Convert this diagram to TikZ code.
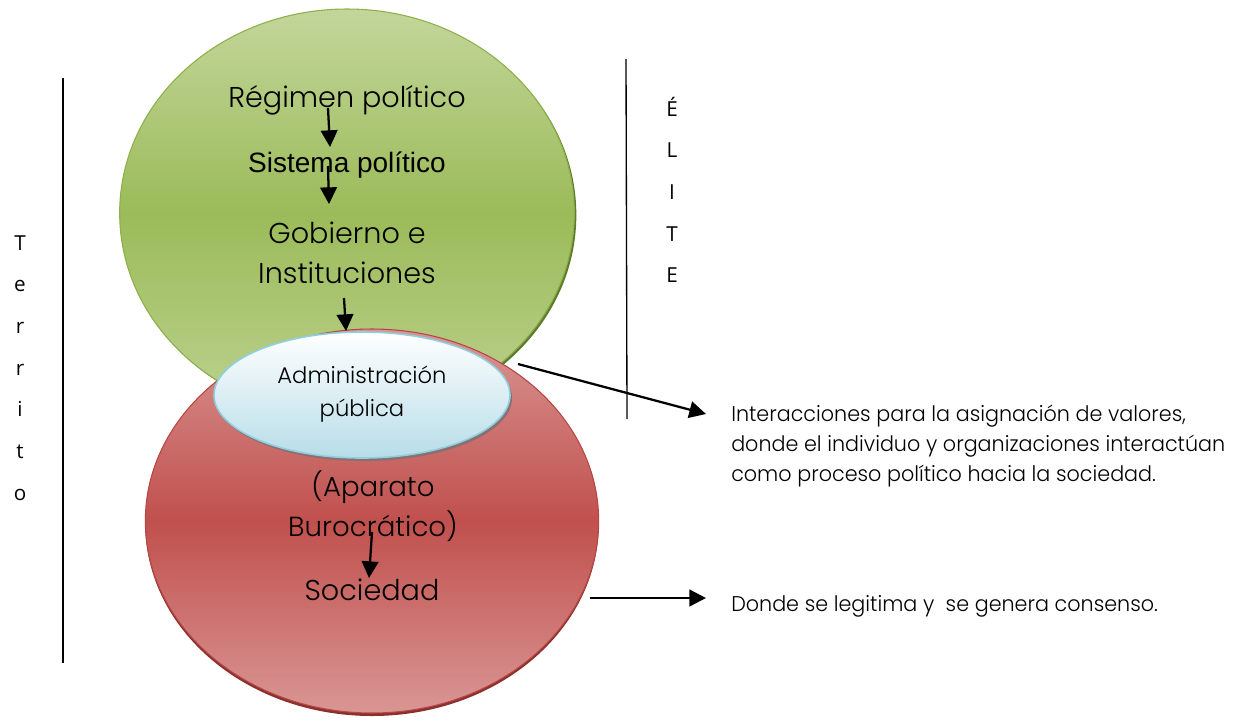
\documentclass[tikz,border=0pt]{standalone}
\usepackage{fontspec}
\setmainfont{Poppins Light}
\newfontfamily\arialfont{Liberation Sans}
\newfontfamily\sidefont{Open Sans}
\newfontfamily\narrowfont[FakeStretch=0.97]{Poppins Light}
\usetikzlibrary{shapes.geometric,arrows.meta}
\definecolor{greentop}{HTML}{C3D69B}
\definecolor{greenmid}{HTML}{9BBB59}
\definecolor{greenline}{HTML}{8DB048}
\definecolor{greenshade}{HTML}{5E7A2C}
\definecolor{redlight}{HTML}{D99694}
\definecolor{redmid}{HTML}{C0504D}
\definecolor{redline}{HTML}{B64643}
\definecolor{redshade}{HTML}{8C302D}
\definecolor{bluebottom}{HTML}{B7DDE8}
\definecolor{blueline}{HTML}{8ECFE0}
\definecolor{blueshade}{HTML}{8A6E70}

\begin{document}
\begin{tikzpicture}[x=0.75pt,y=-0.75pt,
  blob/.style={ellipse,inner sep=0pt},
  arr/.style={-{Triangle[width=12.5pt,length=12.5pt]},line width=1.7pt},
  lbl/.style={font=\fontsize{21.5}{30.5}\selectfont,align=center,inner sep=0pt},
  note/.style={font=\narrowfont\fontsize{16}{22.5}\selectfont,align=left,anchor=west,inner sep=0pt},
  letters/.style={font=\sidefont\fontsize{15.5}{31.25}\selectfont,align=center,inner sep=0pt}]
\useasboundingbox (0,0) rectangle (1244,719);

% the three ellipses, each with its shadow
\node[blob,fill=greenshade,minimum width=341pt,minimum height=306pt] (greenback) at (349,215) {};
\node[blob,draw=greenline,line width=0.8pt,top color=greentop,bottom color=greentop!85!greenmid,middle color=greenmid,
  minimum width=341pt,minimum height=306pt] (green) at (347,213) {};
\node[blob,fill=redshade,minimum width=340pt,minimum height=288pt] (redback) at (372,524) {};
\node[blob,draw=redline,line width=0.8pt,top color=redlight,bottom color=redlight,middle color=redmid,
  minimum width=340pt,minimum height=288pt] (red) at (372,521) {};
\node[blob,fill=blueshade,minimum width=222pt,minimum height=94.5pt] (blueback) at (364,398) {};
\node[blob,draw=blueline,line width=1.2pt,top color=white,bottom color=bluebottom,
  minimum width=222pt,minimum height=94.5pt] (blue) at (362,395) {};

% texts inside
\node[lbl,anchor=base] (regimen) at (347,107) {Régimen político};
\node[lbl,font=\arialfont\fontsize{21}{23}\selectfont,anchor=base] (sistema) at (347,172) {Sistema político};
\node[lbl] (gobierno) at (347,253) {Gobierno e\\Instituciones};
\node[lbl,font=\fontsize{17}{25}\selectfont,align=center] (admin) at (362,394) {Administración\\pública};
\node[lbl,font=\fontsize{20.7}{30}\selectfont] (aparato) at (373,506) {(Aparato\\Burocrático)};
\node[lbl,anchor=base] (sociedad) at (372,600) {Sociedad};

% side texts
\node[letters] (territo) at (20,368) {T\\e\\r\\r\\i\\t\\o};
\node[letters] (elite) at (672,190) {É\\L\\I\\T\\E};
\node[note] (interacciones) at (731,446) {Interacciones para la asignación de valores,\\donde el individuo y organizaciones interactúan\\como proceso político hacia la sociedad.};
\node[note] (legitima) at (731,606) {Donde se legitima y \ se genera consenso.};

% separators
\draw[line width=1pt] (63,78) -- (63,663);
\draw[line width=1pt] (626,59) -- (627,419);

% arrows
\coordinate (a1) at (328,108); \coordinate (b1) at (330,147);
\coordinate (a2) at (328,166); \coordinate (b2) at (329,204);
\coordinate (a3) at (344,298); \coordinate (b3) at (346,331);
\coordinate (a4) at (372,532); \coordinate (b4) at (369,578);
\coordinate (a5) at (518,364); \coordinate (b5) at (706,414);
\coordinate (a6) at (590,598); \coordinate (b6) at (706,598);
\draw[arr] (a1) -- (b1);
\draw[arr] (a2) -- (b2);
\draw[arr] (a3) -- (b3);
\draw[arr] (a4) -- (b4);
\draw[arr] (a5) -- (b5);
\draw[arr] (a6) -- (b6);
\end{tikzpicture}
\end{document}
